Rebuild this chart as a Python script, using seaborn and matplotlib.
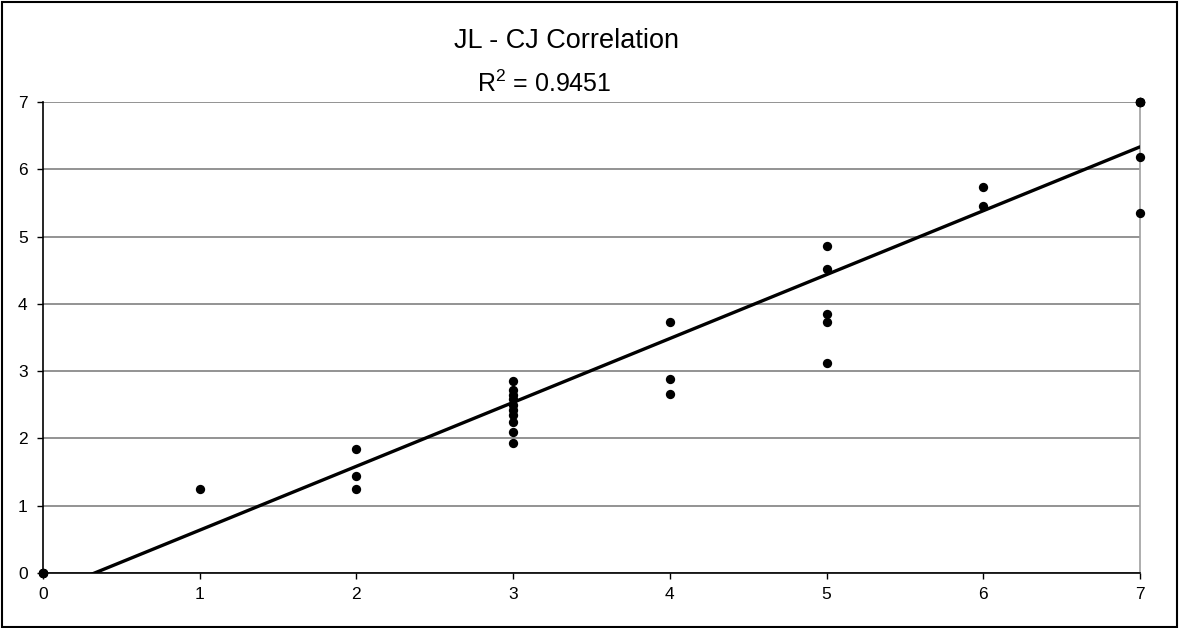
import numpy as np
import pandas as pd
import matplotlib
matplotlib.use('Agg')
import matplotlib.pyplot as plt
import seaborn as sns
from matplotlib.patches import Rectangle

# repeated (0,0) and (7,7) pairs overlap on the chart
jl = [0, 0, 0, 0, 1, 2, 2, 2,
      3, 3, 3, 3, 3, 3, 3, 3, 3, 3,
      4, 4, 4,
      5, 5, 5, 5, 5,
      6, 6,
      7, 7, 7, 7, 7, 7, 7]
cj = [0.0, 0.0, 0.0, 0.0, 1.25, 1.84, 1.44, 1.25,
      2.86, 2.72, 2.65, 2.58, 2.50, 2.42, 2.35, 2.25, 2.10, 1.93,
      3.73, 2.88, 2.66,
      4.86, 4.52, 3.85, 3.73, 3.12,
      5.74, 5.46,
      7.00, 7.00, 7.00, 7.00, 7.00, 6.19, 5.35]
title = 'JL - CJ Correlation'
r2_label = '$\\mathregular{R^2}$ = 0.9451'

df = pd.DataFrame({'JL': jl, 'CJ': cj})

sns.set_style('white')
plt.rcParams['font.family'] = ['Liberation Sans', 'DejaVu Sans']
plt.rcParams['text.color'] = 'black'
plt.rcParams['xtick.color'] = 'black'
plt.rcParams['ytick.color'] = 'black'

fig = plt.figure(figsize=(11.79, 6.28), dpi=100)
ax = fig.add_axes([43 / 1179, 1 - 573 / 628, (1140 - 43) / 1179, (573 - 102) / 628])

sns.regplot(data=df, x='JL', y='CJ', ax=ax, ci=None, truncate=True,
            scatter_kws={'color': 'black', 'alpha': 1, 's': 45, 'linewidths': 0, 'zorder': 4, 'clip_on': False},
            line_kws={'color': 'black', 'lw': 2.4, 'zorder': 3})

ax.set_xlim(0, 7)
ax.set_ylim(0, 7)
ax.set_xticks(range(8))
ax.set_yticks(range(8))
ax.set_xlabel('')
ax.set_ylabel('')
ax.yaxis.grid(True, color='#808080', lw=1.2)
ax.set_axisbelow(True)
ax.spines['top'].set_visible(False)
ax.spines['right'].set_color('#a0a0a0')
ax.spines['right'].set_linewidth(1.2)
for side in ['left', 'bottom']:
    ax.spines[side].set_color('black')
    ax.spines[side].set_linewidth(1.2)
ax.tick_params(axis='both', labelsize=12.5, length=4, width=1, direction='out',
               bottom=True, left=True)
ax.tick_params(axis='x', pad=6)
ax.tick_params(axis='y', pad=7)

fig.text(566 / 1179, 1 - 41 / 628, title, ha='center', va='center', fontsize=19.5)
fig.text(544 / 1179, 1 - 84 / 628, r2_label, ha='center', va='center', fontsize=18)

fig.patches.append(Rectangle((0.002, 0.002), 0.996, 0.995, transform=fig.transFigure,
                             fill=False, edgecolor='black', lw=1.5))

fig.savefig('out.png', dpi=100)
